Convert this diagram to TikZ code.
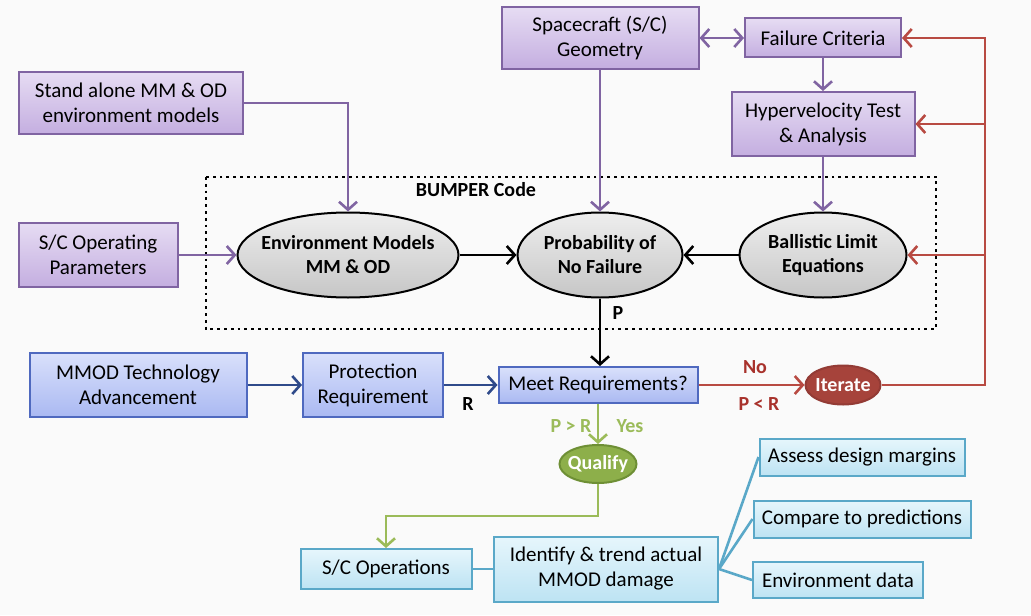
\documentclass[tikz,border=0pt]{standalone}
\usepackage{fontspec}
\setmainfont{Carlito}
\usetikzlibrary{arrows.meta,shapes.geometric}

\definecolor{purpleline}{HTML}{8064A2}
\definecolor{purpletop}{HTML}{E6DCF3}
\definecolor{purplebot}{HTML}{C4AEE0}
\definecolor{blueline}{HTML}{4F69BF}
\definecolor{bluetop}{HTML}{D9E0FB}
\definecolor{bluebot}{HTML}{AAB9F2}
\definecolor{navyarrow}{HTML}{2F4A8A}
\definecolor{cyanline}{HTML}{5AA8C8}
\definecolor{cyantop}{HTML}{E6F6FC}
\definecolor{cyanbot}{HTML}{BDE3F3}
\definecolor{graytop}{HTML}{EEEEEE}
\definecolor{graybot}{HTML}{C6C6C6}
\definecolor{redline}{HTML}{B84A42}
\definecolor{redfill}{HTML}{A6433B}
\definecolor{greenline}{HTML}{9BBB59}
\definecolor{greenfill}{HTML}{8DAF4A}
\definecolor{greendark}{HTML}{6E8F35}
\definecolor{labelred}{HTML}{A8322C}

\tikzset{
  box/.style={rectangle, align=center, line width=1pt, inner sep=1pt},
  purplebox/.style={box, draw=purpleline, top color=purpletop, bottom color=purplebot},
  bluebox/.style={box, draw=blueline, top color=bluetop, bottom color=bluebot},
  cyanbox/.style={box, draw=cyanline, top color=cyantop, bottom color=cyanbot},
  grayoval/.style={ellipse, draw=black, line width=1pt, align=center, inner xsep=-8pt,
    inner ysep=0pt, top color=graytop, bottom color=graybot, font=\bfseries,
    minimum height=42.5pt},
  arr/.style={-{Straight Barb[length=4pt,width=9pt]}, line width=1.3pt},
}

\begin{document}
\begin{tikzpicture}[x=0.5pt, y=-0.5pt, font=\fontsize{10.5}{12.5}\selectfont]
  \useasboundingbox[fill=black!2] (0,0) rectangle (1031,615);

  % Inputs
  \node[purplebox, minimum width=112pt, minimum height=31pt] (sa) at (131,103)
    {Stand alone MM \& OD\\environment models};
  \node[purplebox, minimum width=79.5pt, minimum height=32pt] (ops) at (98,255)
    {S/C Operating\\Parameters};
  \node[purplebox, minimum width=98.5pt, minimum height=31pt] (geo) at (600,38)
    {Spacecraft (S/C)\\Geometry};
  \node[purplebox, minimum width=78pt, minimum height=19.5pt] (fail) at (823,38)
    {Failure Criteria};
  \node[purplebox, minimum width=91.5pt, minimum height=32pt] (hyper) at (823,124)
    {Hypervelocity Test\\\& Analysis};

  % BUMPER code
  \draw[dotted, line width=1.4pt] (206,177) rectangle (936,329);
  \node[font=\bfseries] (bumper) at (476,190) {BUMPER Code};
  \node[grayoval, minimum width=110.5pt] (env) at (348,255) {Environment Models\\MM \& OD};
  \node[grayoval, minimum width=82.5pt] (prob) at (600,255) {Probability of\\No Failure};
  \node[grayoval, minimum width=83.5pt] (ball) at (823,255) {Ballistic Limit\\Equations};

  % Requirement
  \node[bluebox, minimum width=108.5pt, minimum height=32pt] (mmod) at (138,385)
    {MMOD Technology\\Advancement};
  \node[bluebox, minimum width=70pt, minimum height=32pt] (prot) at (373,385)
    {Protection\\Requirement};
  \node[bluebox, minimum width=99.5pt, minimum height=18pt] (meet) at (598,385)
    {Meet Requirements?};
  \node[ellipse, draw=redline!80!black, line width=1pt, fill=redfill, text=white,
    font=\bfseries, inner xsep=-2pt, inner ysep=0pt, minimum width=37.5pt,
    minimum height=19.5pt] (iter) at (843,385) {Iterate};
  \node[ellipse, draw=greendark, line width=1pt, fill=greenfill, text=white,
    font=\bfseries, inner xsep=-2pt, inner ysep=0pt, minimum width=38.5pt,
    minimum height=19pt] (qual) at (598,464) {Qualify};

  % Operations
  \node[cyanbox, minimum width=85.5pt, minimum height=20pt] (scops) at (386,569)
    {S/C Operations};
  \node[cyanbox, minimum width=112pt, minimum height=32.5pt] (ident) at (606,569)
    {Identify \& trend actual\\MMOD damage};
  \node[cyanbox, minimum width=102.5pt, minimum height=18.5pt] (assess) at (862,457)
    {Assess design margins};
  \node[cyanbox, minimum width=108.5pt, minimum height=18.5pt] (comp) at (862,519)
    {Compare to predictions};
  \node[cyanbox, minimum width=85pt, minimum height=18pt] (envd) at (838,580)
    {Environment data};

  % Labels
  \node[font=\bfseries] (plab) at (618,313) {P};
  \node[font=\bfseries] (rlab) at (468,404) {R};
  \node[font=\bfseries, text=labelred] (nolab) at (755,367) {No};
  \node[font=\bfseries, text=labelred] (pltr) at (759,404) {P < R};
  \node[font=\bfseries, text=greenline] (pgtr) at (571,426) {P > R};
  \node[font=\bfseries, text=greenline] (yes) at (630,426) {Yes};

  \coordinate (redtop) at (985,38);
  \coordinate (redbot) at (985,385);
  \coordinate (gbend) at (386,516);

  % Connectors
  \draw[arr, purpleline] (sa.east) -| (env.north);
  \draw[arr, purpleline] (ops.east) -- (env.west);
  \draw[arr, purpleline, {Straight Barb[length=4pt,width=9pt]}-{Straight Barb[length=4pt,width=9pt]}]
    (geo.east) -- (fail.west);
  \draw[arr, purpleline] (geo.south) -- (prob.north);
  \draw[arr, purpleline] (fail.south) -- (hyper.north);
  \draw[arr, purpleline] (hyper.south) -- (ball.north);
  \draw[arr, black] (env.east) -- (prob.west);
  \draw[arr, black] (ball.west) -- (prob.east);
  \draw[arr, black] (prob.south) -- (prob.south |- meet.north);
  \draw[arr, navyarrow] (mmod.east) -- (prot.west);
  \draw[arr, navyarrow] (prot.east) -- (meet.west);
  \draw[arr, redline] (meet.east) -- (iter.west);
  \draw[arr, redline] (iter.east) -- (redbot) -- (redtop) -- (fail.east);
  \draw[arr, redline] (redtop |- hyper.east) -- (hyper.east);
  \draw[arr, redline] (redtop |- ball.east) -- (ball.east);
  \draw[arr, greenline] (meet.south) -- (qual.north);
  \draw[arr, greenline] (qual.south) |- (gbend) -- (scops.north);
  \draw[cyanline, line width=1.3pt] (scops.east) -- (ident.west);
  \draw[cyanline, line width=1.3pt] (ident.east) -- (assess.west);
  \draw[cyanline, line width=1.3pt] (ident.east) -- (comp.west);
  \draw[cyanline, line width=1.3pt] (ident.east) -- (envd.west);
\end{tikzpicture}
\end{document}
